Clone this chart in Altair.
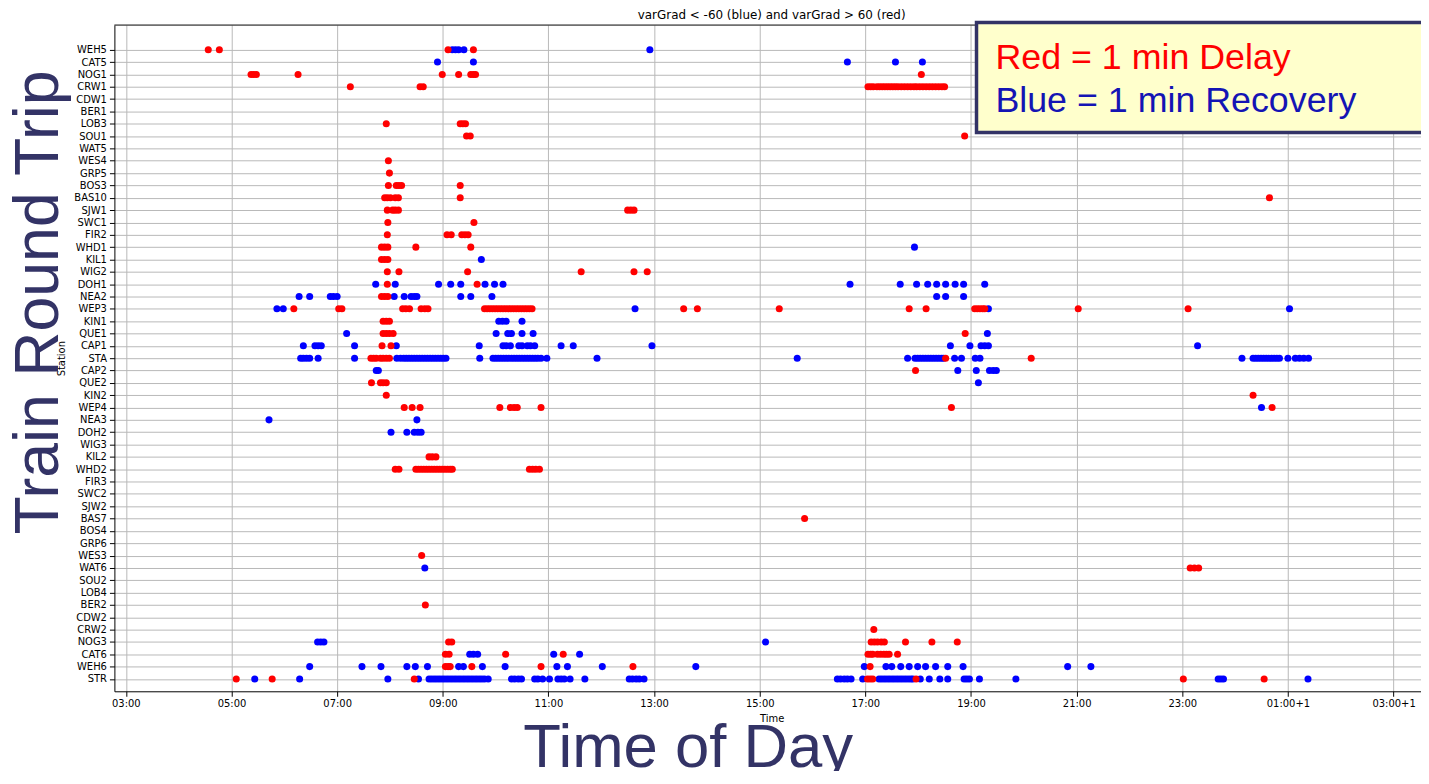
import altair as alt
import pandas as pd

STATIONS = ["WEH5", "CAT5", "NOG1", "CRW1", "CDW1", "BER1", "LOB3", "SOU1", "WAT5", "WES4",
            "GRP5", "BOS3", "BAS10", "SJW1", "SWC1", "FIR2", "WHD1", "KIL1", "WIG2", "DOH1",
            "NEA2", "WEP3", "KIN1", "QUE1", "CAP1", "STA", "CAP2", "QUE2", "KIN2", "WEP4",
            "NEA3", "DOH2", "WIG3", "KIL2", "WHD2", "FIR3", "SWC2", "SJW2", "BAS7", "BOS4",
            "GRP6", "WES3", "WAT6", "SOU2", "LOB4", "BER2", "CDW2", "CRW2", "NOG3", "CAT6",
            "WEH6", "STR"]

TICK_HOURS = [3, 5, 7, 9, 11, 13, 15, 17, 19, 21, 23, 25, 27]

# hours of day (24+ = next day) where varGrad > 60 (red, delay)
RED = {
    "WEH5": [4.56, 4.77, 9.10, 9.58],
    "NOG1": [5.37, 5.42, 5.47, 6.26, 8.99, 9.30, 9.53, 9.58, 9.62, 18.06],
    "CRW1": [7.25, 8.57, 8.63, 17.05, 17.10, 17.15, 17.22, 17.27, 17.32, 17.37, 17.42, 17.47,
             17.52, 17.57, 17.62, 17.68, 17.74, 17.80, 17.86, 17.92, 17.97, 18.03, 18.09, 18.15,
             18.21, 18.27, 18.33, 18.39, 18.45, 18.50],
    "LOB3": [7.93, 9.33, 9.38, 9.43],
    "SOU1": [9.45, 9.52, 18.88],
    "WES4": [7.97],
    "GRP5": [7.99],
    "BOS3": [7.97, 8.12, 8.17, 8.22, 9.33],
    "BAS10": [7.90, 7.95, 8.01, 8.10, 8.16, 9.33, 24.65],
    "SJW1": [7.95, 8.05, 8.10, 8.16, 12.50, 12.56, 12.62],
    "SWC1": [7.96, 9.59],
    "FIR2": [7.95, 9.08, 9.16, 9.36, 9.42, 9.48],
    "WHD1": [7.84, 7.90, 7.96, 8.49, 9.53],
    "KIL1": [7.84, 7.90, 7.96],
    "WIG2": [7.95, 8.17, 9.47, 11.62, 12.62, 12.87],
    "DOH1": [7.95, 9.65],
    "NEA2": [7.84, 7.90, 7.96],
    "WEP3": [6.18, 7.03, 7.09, 8.24, 8.30, 8.37, 8.59, 8.66, 8.72, 9.79, 9.84, 9.89, 9.94,
             9.99, 10.04, 10.09, 10.14, 10.19, 10.24, 10.29, 10.34, 10.39, 10.44, 10.49, 10.54,
             10.59, 10.64, 10.69, 13.56, 13.82, 15.37, 17.83, 18.15, 19.07, 19.12, 19.17,
             19.22, 19.26, 21.03, 23.11],
    "KIN1": [7.87, 7.93, 7.99],
    "QUE1": [7.87, 7.93, 7.99, 8.06, 18.89],
    "CAP1": [7.85, 8.02],
    "STA": [7.64, 7.69, 7.74, 7.82, 7.87, 7.93, 7.99, 18.52, 20.14],
    "CAP2": [17.95],
    "QUE2": [7.65, 7.82, 7.87, 7.93],
    "KIN2": [7.93, 24.34],
    "WEP4": [8.27, 8.42, 8.57, 10.08, 10.28, 10.35, 10.41, 10.86, 18.63, 24.70],
    "KIL2": [8.74, 8.80, 8.87],
    "WHD2": [8.10, 8.17, 8.49, 8.54, 8.59, 8.64, 8.69, 8.74, 8.79, 8.84, 8.89, 8.94, 8.99,
             9.04, 9.09, 9.14, 9.18, 10.64, 10.70, 10.76, 10.83],
    "BAS7": [15.85],
    "WES3": [8.60],
    "WAT6": [23.15, 23.23, 23.31],
    "BER2": [8.67],
    "CRW2": [17.16],
    "NOG3": [9.11, 9.17, 17.11, 17.17, 17.23, 17.30, 17.36, 17.76, 18.26, 18.74],
    "CAT6": [9.05, 9.12, 10.19, 11.28, 17.05, 17.10, 17.14, 17.23, 17.29, 17.35, 17.40,
             17.45, 17.61],
    "WEH6": [9.05, 9.10, 9.14, 9.55, 10.86, 12.60, 17.09],
    "STR": [5.09, 5.77, 8.46, 17.04, 17.09, 17.14, 17.96, 23.02, 24.55],
}

# hours where varGrad < -60 (blue, recovery)
BLUE = {
    "WEH5": [9.18, 9.24, 9.30, 9.40, 12.92],
    "CAT5": [8.90, 9.58, 16.66, 17.57, 18.08],
    "WHD1": [17.93],
    "KIL1": [9.73],
    "DOH1": [7.73, 8.10, 8.92, 9.15, 9.34, 9.80, 9.98, 10.14, 16.71, 17.66, 17.97, 18.18,
             18.35, 18.52, 18.70, 18.86, 19.26],
    "NEA2": [6.28, 6.48, 6.87, 6.93, 7.00, 8.08, 8.27, 8.40, 8.46, 8.51, 9.34, 9.53, 9.93,
             18.35, 18.52, 18.86],
    "WEP3": [5.86, 5.98, 12.64, 19.33, 25.03],
    "KIN1": [10.06, 10.13, 10.20, 10.50],
    "QUE1": [7.18, 10.01, 10.23, 10.30, 10.50, 10.71, 19.31],
    "CAP1": [6.36, 6.58, 6.64, 6.70, 7.33, 8.12, 9.69, 10.14, 10.20, 10.28, 10.44, 10.50,
             10.60, 10.66, 10.74, 11.24, 11.47, 12.96, 18.61, 18.98, 19.19, 19.26, 19.33, 23.29],
    "STA": [6.31, 6.36, 6.42, 6.48, 6.64, 7.33, 8.13, 8.20, 8.26, 8.31, 8.36, 8.41, 8.46,
            8.51, 8.56, 8.61, 8.66, 8.71, 8.76, 8.81, 8.86, 8.91, 8.96, 9.01, 9.06, 9.70,
            9.95, 10.00, 10.05, 10.10, 10.15, 10.20, 10.25, 10.30, 10.35, 10.40, 10.45, 10.50,
            10.55, 10.60, 10.65, 10.70, 10.75, 10.80, 10.86, 10.97, 11.92, 15.71, 17.80, 17.94,
            17.99, 18.04, 18.09, 18.14, 18.19, 18.24, 18.29, 18.34, 18.39, 18.44, 18.48, 18.69,
            18.82, 19.08, 19.17, 24.13, 24.34, 24.39, 24.44, 24.49, 24.54, 24.59, 24.64, 24.69,
            24.74, 24.79, 24.84, 25.00, 25.14, 25.22, 25.30, 25.39],
    "CAP2": [7.74, 7.78, 18.75, 19.10, 19.35, 19.42, 19.48],
    "QUE2": [19.14],
    "WEP4": [24.50],
    "NEA3": [5.71, 8.51],
    "DOH2": [8.02, 8.32, 8.46, 8.53, 8.59],
    "WAT6": [8.66],
    "NOG3": [6.63, 6.69, 6.75, 15.11],
    "CAT6": [9.51, 9.58, 9.66, 11.10, 11.59],
    "WEH6": [6.48, 7.47, 7.83, 8.32, 8.48, 8.71, 9.30, 9.39, 9.75, 10.18, 11.16, 11.36,
             12.02, 13.79, 16.98, 17.39, 17.50, 17.67, 17.83, 17.99, 18.14, 18.33, 18.56,
             18.85, 20.83, 21.27],
    "STR": [5.44, 6.29, 7.96, 8.54, 8.74, 8.79, 8.84, 8.89, 8.94, 8.99, 9.04, 9.09, 9.14,
            9.19, 9.24, 9.29, 9.34, 9.39, 9.44, 9.49, 9.54, 9.59, 9.64, 9.69, 9.74, 9.79, 9.86,
            10.30, 10.36, 10.43, 10.49, 10.74, 10.80, 10.89, 11.02, 11.18, 11.24, 11.30, 11.41,
            11.69, 12.53, 12.59, 12.66, 12.72, 12.81, 16.47, 16.53, 16.60, 16.66, 16.73, 16.95,
            17.26, 17.31, 17.36, 17.41, 17.46, 17.51, 17.56, 17.61, 17.66, 17.71, 17.76, 17.81,
            17.86, 17.90, 18.04, 18.21, 18.41, 18.56, 18.87, 18.92, 18.97, 19.16, 19.85, 23.68,
            23.73, 23.78, 25.38],
}

TITLE = "varGrad < -60 (blue) and varGrad > 60 (red)"
LEGEND_RED = "Red = 1 min Delay"
LEGEND_BLUE = "Blue = 1 min Recovery"
BIG_Y = "Train Round Trip"
BIG_X = "Time of Day"

rows = []
for kind, table in (("blue", BLUE), ("red", RED)):
    for st, hrs in table.items():
        for h in hrs:
            rows.append({"station": st, "idx": STATIONS.index(st), "hour": h, "kind": kind})
df = pd.DataFrame(rows)

W, H = 1314, 670
PX_PER_H = 53.12
X0 = 2.783
X1 = X0 + W / PX_PER_H

label_y = "[" + ",".join("'" + s + "'" for s in STATIONS) + "][datum.value]"
label_x = ("(datum.value % 24 < 10 ? '0' : '') + (datum.value % 24) + ':00'"
           " + (datum.value >= 24 ? '+1' : '')")

points = alt.Chart(df).mark_circle(size=50, opacity=1).encode(
    x=alt.X("hour:Q",
            scale=alt.Scale(domain=[X0, X1], nice=False, zero=False),
            axis=alt.Axis(values=TICK_HOURS, labelExpr=label_x, title="Time",
                          labelFlush=False, labelOverlap=False, labelPadding=2,
                          titleX=661, titleY=22, titleBaseline="top")),
    y=alt.Y("idx:Q",
            scale=alt.Scale(domain=[-2, 52], reverse=True, nice=False, zero=False),
            axis=alt.Axis(values=list(range(len(STATIONS))), labelExpr=label_y,
                          title="Station", labelOverlap=False, labelPadding=3,
                          titleX=-48, titleY=335)),
    color=alt.Color("kind:N",
                    scale=alt.Scale(domain=["red", "blue"], range=["#FF0000", "#0000FF"]),
                    legend=None),
)

top_spine = alt.Chart(pd.DataFrame({"a": [0]})).mark_rule(color="black", strokeWidth=1).encode(
    x=alt.value(0), x2=alt.value(W), y=alt.value(0)
)

title = alt.Chart(pd.DataFrame({"t": [TITLE]})).mark_text(
    font="DejaVu Sans", fontSize=12, align="center", baseline="middle", color="black"
).encode(text="t:N", x=alt.value(661), y=alt.value(-10))

box = alt.Chart(pd.DataFrame({"a": [0]})).mark_rect(
    fill="#FFFFCC", stroke="#333366", strokeWidth=3.5
).encode(x=alt.value(867), x2=alt.value(1340), y=alt.value(-2.5), y2=alt.value(108))

leg_red = alt.Chart(pd.DataFrame({"t": [LEGEND_RED]})).mark_text(
    font="Liberation Sans", fontSize=36, align="left", baseline="alphabetic", color="#FF0000"
).encode(text="t:N", x=alt.value(886), y=alt.value(44))

leg_blue = alt.Chart(pd.DataFrame({"t": [LEGEND_BLUE]})).mark_text(
    font="Liberation Sans", fontSize=36, align="left", baseline="alphabetic", color="#1414B4"
).encode(text="t:N", x=alt.value(886), y=alt.value(87))

big_y = alt.Chart(pd.DataFrame({"t": [BIG_Y]})).mark_text(
    font="Liberation Sans", fontSize=63, align="center", baseline="alphabetic",
    color="#333366", angle=270
).encode(text="t:N", x=alt.value(-57), y=alt.value(279))

big_x = alt.Chart(pd.DataFrame({"t": [BIG_X]})).mark_text(
    font="Liberation Sans", fontSize=62, align="center", baseline="alphabetic",
    color="#333366"
).encode(text="t:N", x=alt.value(577), y=alt.value(746))

chart = alt.layer(points, top_spine, title, box, leg_red, leg_blue, big_y, big_x).properties(
    width=W, height=H,
    autosize=alt.AutoSizeParams(type="none"),
    padding={"left": 107, "top": 15, "right": 0, "bottom": 78},
).configure_view(stroke=None).configure_axis(
    domainColor="black", tickColor="black", labelColor="black", titleColor="black",
    gridColor="#b8b8b8", gridWidth=1, tickSize=5,
    labelFont="DejaVu Sans", labelFontSize=10,
    titleFont="DejaVu Sans", titleFontSize=10, titleFontWeight="normal",
)

chart.save("out.html", embed_options={"renderer": "svg", "actions": False})
